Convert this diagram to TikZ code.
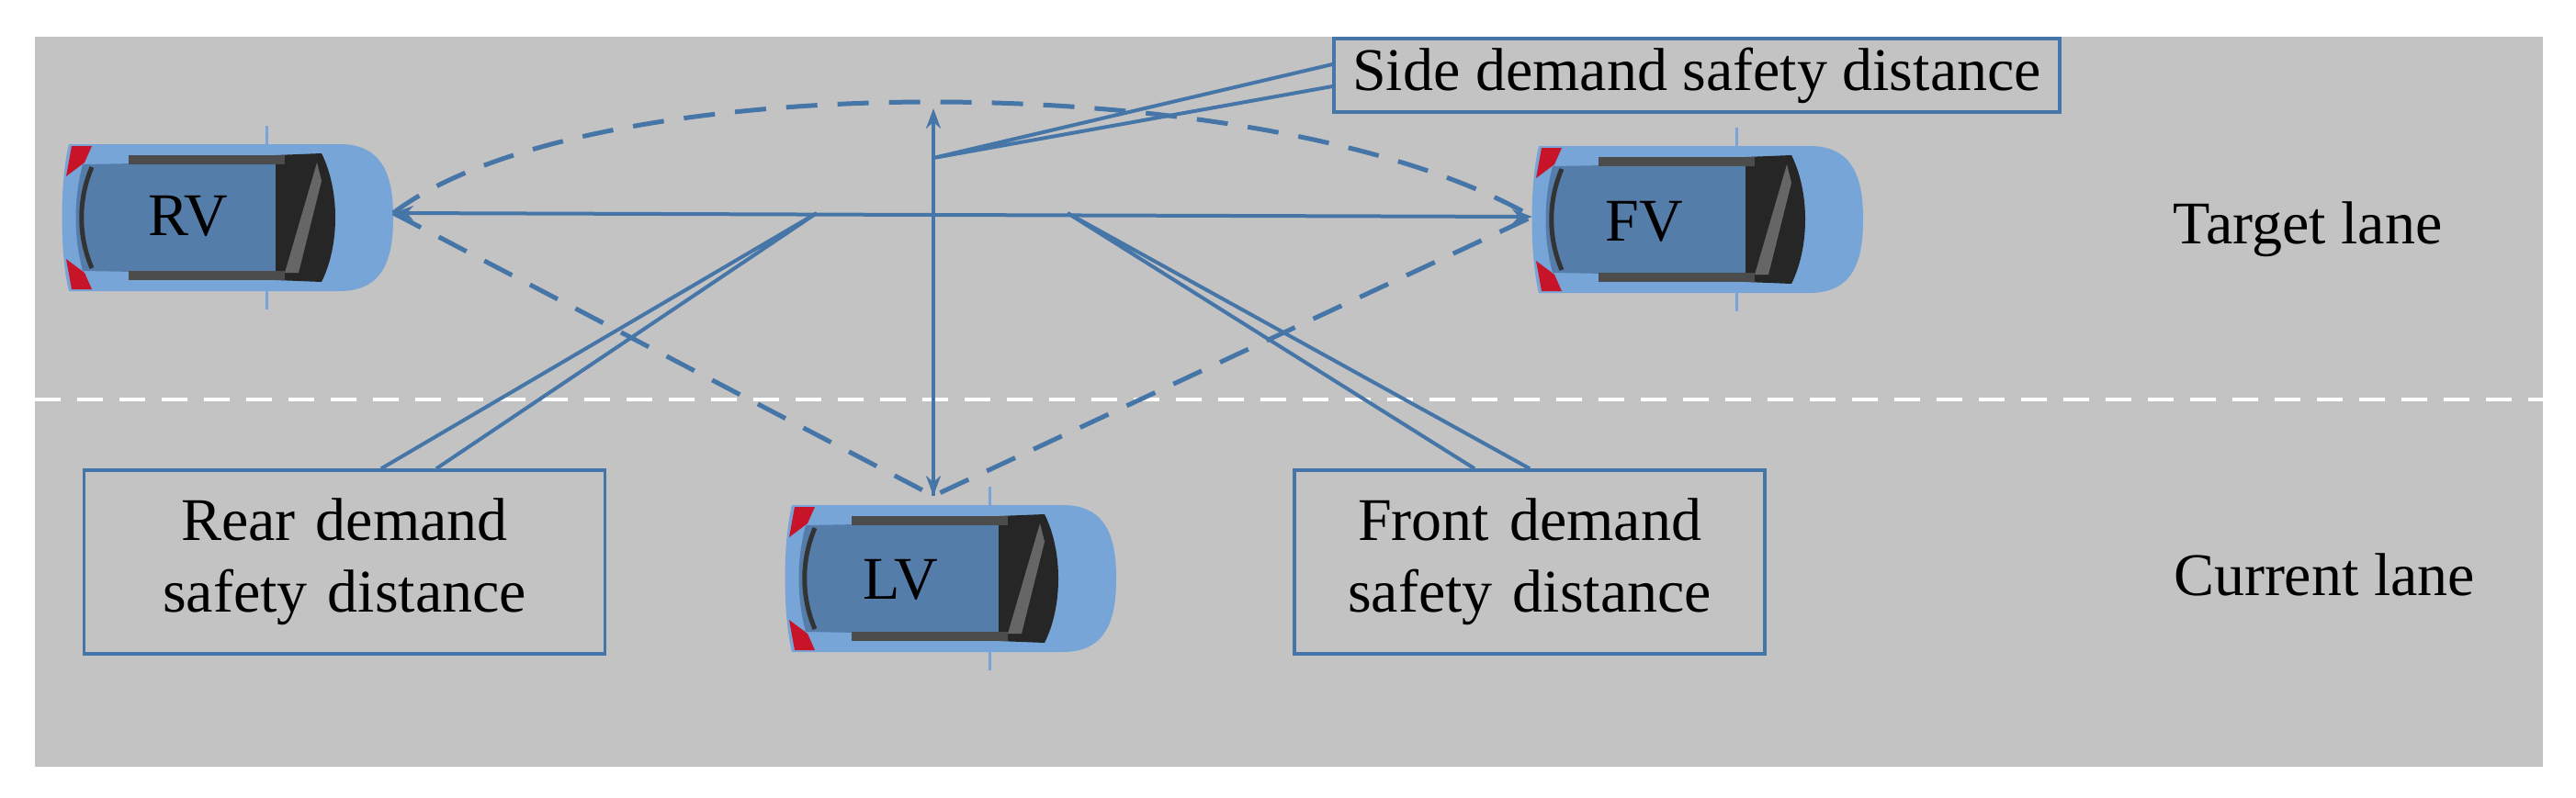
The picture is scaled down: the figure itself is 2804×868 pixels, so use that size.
\documentclass[tikz,border=0pt]{standalone}
\usepackage{fontspec}
\setmainfont{Liberation Serif}
\usetikzlibrary{arrows.meta}
\definecolor{ln}{RGB}{70,118,168}
\definecolor{road}{RGB}{195,195,195}
\definecolor{body}{RGB}{120,165,215}
\definecolor{cabin}{RGB}{85,125,170}
\definecolor{tl}{RGB}{200,20,40}
\tikzset{
 conn/.style={draw=ln,line width=4pt},
 dconn/.style={draw=ln,line width=5pt,dash pattern=on 34pt off 22pt},
 arr/.style={-{Stealth[length=22pt,width=16pt]}},
 box/.style={draw=ln,line width=3.5pt,fill=road,align=center,font=\fontsize{66}{78}\selectfont},
 txt/.style={font=\fontsize{66}{78}\selectfont},
 car/.pic={
  \fill[body] (-175,-80) -- (120,-80) .. controls (170,-80) and (178,-40) .. (178,0) .. controls (178,40) and (170,80) .. (120,80) -- (-175,80) .. controls (-185,40) and (-185,-40) .. (-175,-80) -- cycle;
  \fill[tl] (-172,-78) -- (-150,-78) -- (-158,-60) -- (-178,-45) -- cycle;
  \fill[tl] (-172,78) -- (-150,78) -- (-158,60) -- (-178,45) -- cycle;
  \fill[cabin] (-160,-58) -- (70,-62) -- (70,62) -- (-160,58) .. controls (-170,20) and (-170,-20) .. (-160,-58) -- cycle;
  \fill[black!85] (50,-68) -- (100,-70) .. controls (120,-30) and (120,30) .. (100,70) -- (50,68) -- cycle;
  \fill[black!60] (60,60) -- (95,-60) -- (100,-40) -- (75,60) -- cycle;
  \draw[black!80,line width=5pt] (-150,-55) .. controls (-165,-20) and (-165,20) .. (-150,55);
  \fill[black!70] (-110,-68) rectangle (60,-58);
  \fill[black!70] (-110,58) rectangle (60,68);
  \draw[body,line width=3pt] (40,-80) -- (40,-100);
  \draw[body,line width=3pt] (40,80) -- (40,100);
 }
}
\begin{document}
\begin{tikzpicture}[x=1pt,y=-1pt]
\useasboundingbox (0,0) rectangle (2804,868);
\fill[road] (38,40) rectangle (2768,835);
\draw[white,line width=4pt,dash pattern=on 28pt off 18pt] (38,435) -- (2768,435);
\pic at (250,237) {car};
\pic at (1850,239) {car};
\pic at (1037,630) {car};
\node[txt] (rv) at (205,235) {RV};
\node[txt] (fv) at (1790,241) {FV};
\node[txt] (lv) at (980,631) {LV};
\coordinate (rvf) at (428,232);
\coordinate (fvr) at (1668,236);
\coordinate (lvt) at (1016,540);
\coordinate (c) at (1016,234);
\coordinate (top) at (1016,118);
\draw[dconn] (rvf) .. controls (640,70) and (1380,70) .. (fvr);
\draw[dconn] (rvf) -- (lvt) -- (fvr);
\draw[conn,arr] (c) -- (rvf);
\draw[conn,arr] (c) -- (fvr);
\draw[conn,arr] (lvt) -- (top);
\draw[conn,arr] (c) -- (lvt);
\node[box,minimum height=80pt,inner xsep=20pt] (side) at (1847,82) {Side demand safety distance};
\node[box,text width=560pt,minimum height=200pt] (rear) at (375,612) {Rear demand\\safety distance};
\node[box,text width=505pt,minimum height=200pt] (front) at (1665,612) {Front demand\\safety distance};
\node[txt] (tgt) at (2512,250) {Target lane};
\node[txt] (cur) at (2530,626) {Current lane};
\coordinate (sj) at (1016,172);
\coordinate (rj) at (889,232);
\coordinate (fj) at (1162,232);
\draw[conn] ([yshift=-12pt]side.west) -- (sj) -- ([yshift=12pt]side.west);
\draw[conn] ([xshift=40pt]rear.north) -- (rj) -- ([xshift=100pt]rear.north);
\draw[conn] ([xshift=-60pt]front.north) -- (fj) -- ([xshift=0pt]front.north);
\end{tikzpicture}
\end{document}
